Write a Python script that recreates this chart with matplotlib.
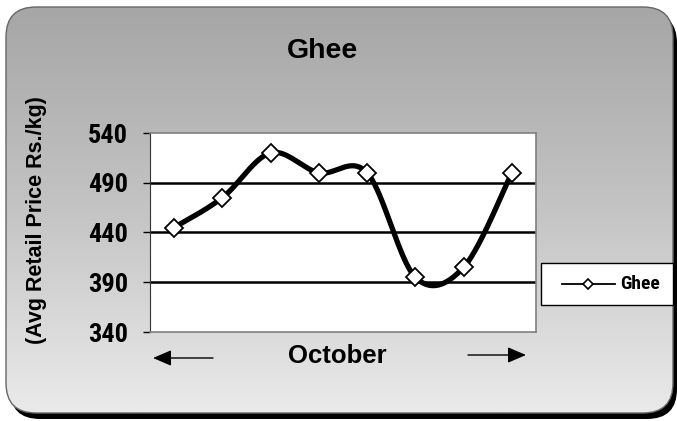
import numpy as np
import matplotlib
matplotlib.use("Agg")
import matplotlib.pyplot as plt
from matplotlib.patches import FancyBboxPatch
from matplotlib.colors import LinearSegmentedColormap
from matplotlib.lines import Line2D

# data
days = ["1", "2", "3", "4", "5", "6", "7", "8"]
prices = [445, 475, 520, 500, 500, 395, 405, 500]
yticks = [340, 390, 440, 490, 540]
title = "Ghee"
ylabel = "(Avg Retail Price Rs./kg)"
xlabel = "October"

plt.rcParams['font.family'] = ['Roboto Condensed', 'DejaVu Sans']
plt.rcParams['font.weight'] = 'bold'
wide = ['Liberation Sans', 'DejaVu Sans']

W, H = 677, 421
fig = plt.figure(figsize=(W / 100, H / 100), dpi=100)
fig.patch.set_facecolor('white')

# background canvas in pixel coords
bg = fig.add_axes([0, 0, 1, 1])
bg.set_xlim(0, W)
bg.set_ylim(H, 0)
bg.axis('off')

box = (6, 7, 667, 406)
shadow = FancyBboxPatch((box[0] + 4, box[1] + 6), box[2], box[3],
                        boxstyle="round,pad=0,rounding_size=30", fc='black', ec='none', zorder=1)
bg.add_patch(shadow)
grad = np.linspace(0, 1, 256).reshape(-1, 1)
cmap = LinearSegmentedColormap.from_list('g', ['#a6a6a6', '#c4c4c4', '#eaeaea'])
img = bg.imshow(grad, extent=[box[0], box[0] + box[2], box[1] + box[3], box[1]], cmap=cmap,
                aspect='auto', zorder=2, interpolation='bilinear')
clip = FancyBboxPatch(box[:2], box[2], box[3], boxstyle="round,pad=0,rounding_size=30",
                      fc='none', ec='#666666', lw=1.0, zorder=3)
bg.add_patch(clip)
img.set_clip_path(clip)

bg.text(323, 51, title, ha='center', va='center', fontsize=20.5, family=wide, zorder=4)
bg.text(37, 220, ylabel, ha='center', va='center', rotation=90, fontsize=15.5,
        family=wide, zorder=4)
bg.text(337, 356, xlabel, ha='center', va='center', fontsize=18.5, family=wide, zorder=4)
bg.annotate("", xy=(153, 358), xytext=(213, 358),
            arrowprops=dict(arrowstyle='-|>,head_length=0.7,head_width=0.3', color='black',
                            lw=1, mutation_scale=16, shrinkA=0, shrinkB=0), zorder=4)
bg.annotate("", xy=(526, 355), xytext=(468, 355),
            arrowprops=dict(arrowstyle='-|>,head_length=0.7,head_width=0.3', color='black',
                            lw=1, mutation_scale=16, shrinkA=0, shrinkB=0), zorder=4)

# plot area
ax = fig.add_axes([150 / W, (H - 332) / H, 386 / W, 199 / H])
ax.set_facecolor('white')
ax.set_xlim(-0.5, len(days) - 0.5)
ax.set_ylim(340, 540)
ax.set_yticks(yticks)
ax.set_yticklabels([str(v) for v in yticks], fontsize=19)
ax.set_xticks([])
ax.tick_params(axis='y', direction='out', length=5, width=1, pad=11)
for s in ['top', 'right', 'bottom']:
    ax.spines[s].set_color('#808080')
    ax.spines[s].set_linewidth(1.2)
ax.spines['left'].set_color('#333333')
for v in yticks[1:4]:
    ax.axhline(v, color='black', lw=1.8, zorder=1)

# smoothed line through the points (Bezier with Catmull-Rom handles)
x = np.arange(len(prices), dtype=float)
y = np.array(prices, dtype=float)
px = np.concatenate([[x[0]], x, [x[-1]]])
py = np.concatenate([[y[0]], y, [y[-1]]])
sx, sy = [], []
t = np.linspace(0, 1, 40)
for i in range(1, len(px) - 2):
    p0, p1, p2, p3 = [np.array([px[j], py[j]]) for j in (i - 1, i, i + 1, i + 2)]
    c1 = p1 + (p2 - p0) / 6
    c2 = p2 - (p3 - p1) / 6
    b = ((1 - t) ** 3)[:, None] * p1 + (3 * (1 - t) ** 2 * t)[:, None] * c1 + \
        (3 * (1 - t) * t ** 2)[:, None] * c2 + (t ** 3)[:, None] * p2
    sx.extend(b[:, 0])
    sy.extend(b[:, 1])
ax.plot(sx, sy, color='black', lw=3.8, solid_capstyle='round', zorder=3)
ax.plot(x, y, linestyle='none', marker='D', markersize=9, markerfacecolor='white',
        markeredgecolor='black', markeredgewidth=1.3, zorder=4)

# legend
leg = plt.Rectangle((541, 263), 132, 42, fc='white', ec='black', lw=1, zorder=5)
bg.add_patch(leg)
bg.add_line(Line2D([562, 615], [284, 284], color='black', lw=1.3, zorder=6))
bg.add_line(Line2D([588], [284], marker='D', markersize=5, markerfacecolor='white',
                   markeredgecolor='black', markeredgewidth=1.2, zorder=7))
bg.text(620, 284, title, ha='left', va='center', fontsize=14, zorder=7)

fig.savefig("out.png", dpi=100)
